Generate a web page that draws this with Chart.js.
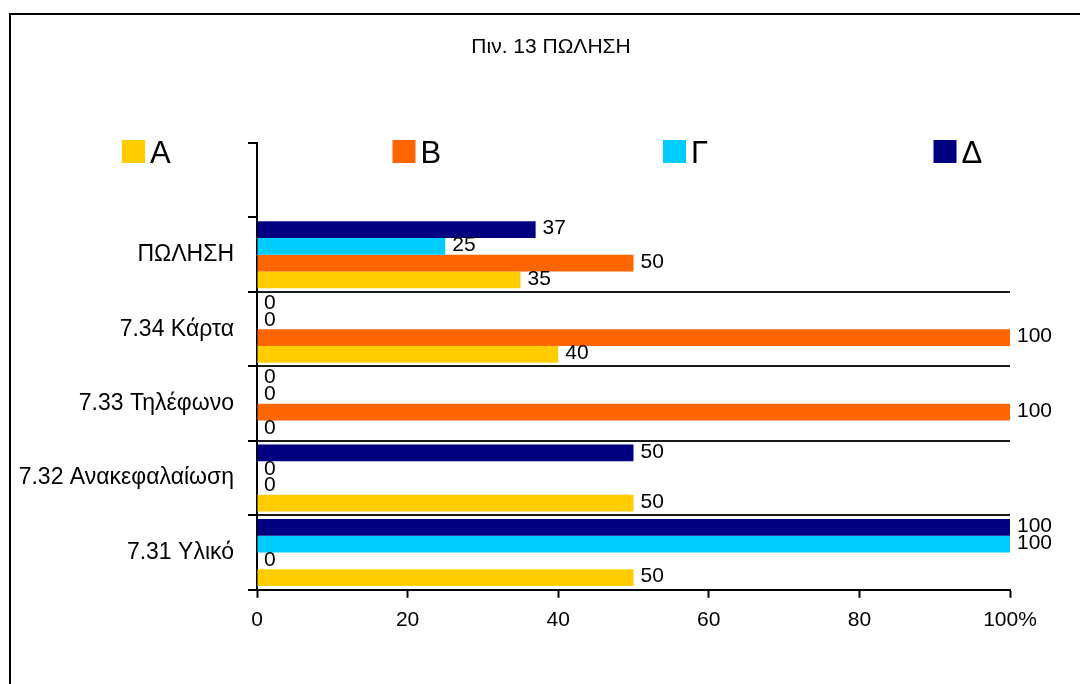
<!DOCTYPE html>
<html>
<head>
<meta charset="utf-8">
<script src="https://cdn.jsdelivr.net/npm/chart.js@4.4.1/dist/chart.umd.min.js"></script>
<style>
  html, body { margin: 0; padding: 0; background: #fff; }
  canvas { display: block; }
</style>
</head>
<body>
<canvas id="chart" width="1080" height="684"></canvas>
<script>
// Categories listed top to bottom (first slot is an empty spacer row)
const categories = ['', 'ΠΩΛΗΣΗ', '7.34 Κάρτα', '7.33 Τηλέφωνο', '7.32 Ανακεφαλαίωση', '7.31 Υλικό'];
const seriesNames = ['Α', 'Β', 'Γ', 'Δ'];
const valuesA = [null, 35, 40, 0, 50, 50];
const valuesB = [null, 50, 100, 100, 0, 0];
const valuesG = [null, 25, 0, 0, 0, 100];
const valuesD = [null, 37, 0, 0, 50, 100];
const xTickValues = [0, 20, 40, 60, 80, 100];
const xTickLabels = ['0', '20', '40', '60', '80', '100%'];
const titleText = 'Πιν. 13 ΠΩΛΗΣΗ';

const seriesColors = ['#FFCC00', '#FF6600', '#00CCFF', '#000080'];
const seriesValues = [valuesA, valuesB, valuesG, valuesD];
const FONT = '"Liberation Sans", Arial, Helvetica, sans-serif';

Chart.defaults.font.family = FONT;
Chart.defaults.color = '#000';

// Δ is drawn at the top of each group, Α at the bottom
const datasets = seriesNames.map((name, i) => ({
  label: name,
  data: seriesValues[i],
  backgroundColor: seriesColors[i],
  borderWidth: 0,
  barPercentage: 1,
  categoryPercentage: 0.9
})).reverse();

// Outer frame of the chart box
const framePlugin = {
  id: 'frame',
  beforeDraw(chart) {
    const ctx = chart.ctx;
    ctx.save();
    ctx.fillStyle = '#fff';
    ctx.fillRect(0, 0, chart.width, chart.height);
    ctx.strokeStyle = '#000';
    ctx.lineWidth = 2;
    ctx.strokeRect(10, 14, chart.width + 40, chart.height + 40);
    ctx.restore();
  }
};

// Title and a wide, evenly spaced legend row
const headerPlugin = {
  id: 'header',
  afterDraw(chart) {
    const ctx = chart.ctx;
    ctx.save();
    ctx.fillStyle = '#000';
    ctx.font = '21px ' + FONT;
    ctx.textAlign = 'center';
    ctx.textBaseline = 'alphabetic';
    ctx.fillText(titleText, 551, 53);

    const box = 23, start = 122, step = 270.5, top = 140;
    ctx.font = '31px ' + FONT;
    ctx.textAlign = 'left';
    seriesNames.forEach((name, i) => {
      const x = start + i * step;
      ctx.fillStyle = seriesColors[i];
      ctx.fillRect(x, top, box, box);
      ctx.fillStyle = '#000';
      ctx.fillText(name, x + box + 5, top + box);
    });
    ctx.restore();
  }
};

// Value labels at the end of every bar
const valueLabelPlugin = {
  id: 'valueLabels',
  afterDatasetsDraw(chart) {
    const ctx = chart.ctx;
    ctx.save();
    ctx.font = '21px ' + FONT;
    ctx.fillStyle = '#000';
    ctx.textAlign = 'left';
    ctx.textBaseline = 'middle';
    chart.data.datasets.forEach((ds, di) => {
      const meta = chart.getDatasetMeta(di);
      meta.data.forEach((bar, i) => {
        const v = ds.data[i];
        if (v === null || v === undefined) return;
        ctx.fillText(String(v), bar.x + 7, bar.y - 1);
      });
    });
    ctx.restore();
  }
};

new Chart(document.getElementById('chart'), {
  type: 'bar',
  data: { labels: categories, datasets },
  options: {
    indexAxis: 'y',
    responsive: false,
    animation: false,
    devicePixelRatio: 1,
    layout: { padding: { top: 143, left: 0, right: 70, bottom: 41 } },
    plugins: {
      legend: { display: false },
      title: { display: false },
      tooltip: { enabled: false }
    },
    scales: {
      x: {
        min: 0,
        max: 100,
        afterBuildTicks(scale) { scale.ticks = xTickValues.map(v => ({ value: v })); },
        ticks: {
          font: { size: 21 },
          color: '#000',
          padding: 10,
          maxRotation: 0,
          callback(value) { return xTickLabels[xTickValues.indexOf(value)]; }
        },
        grid: {
          drawOnChartArea: false,
          drawTicks: true,
          tickLength: 8,
          tickColor: '#000',
          tickWidth: 2
        },
        border: { display: true, color: '#000', width: 2 }
      },
      y: {
        afterFit(scale) { scale.width = 257; },
        ticks: {
          font: { size: 23 },
          color: '#000',
          padding: 14
        },
        grid: {
          offset: true,
          drawOnChartArea: true,
          tickLength: 9,
          tickColor: '#000',
          tickWidth: 2,
          lineWidth: 2,
          color(ctx) { return (ctx.index >= 2) ? '#1a1a1a' : 'rgba(0,0,0,0)'; }
        },
        border: { display: true, color: '#000', width: 2 }
      }
    }
  },
  plugins: [framePlugin, headerPlugin, valueLabelPlugin]
});
</script>
</body>
</html>
